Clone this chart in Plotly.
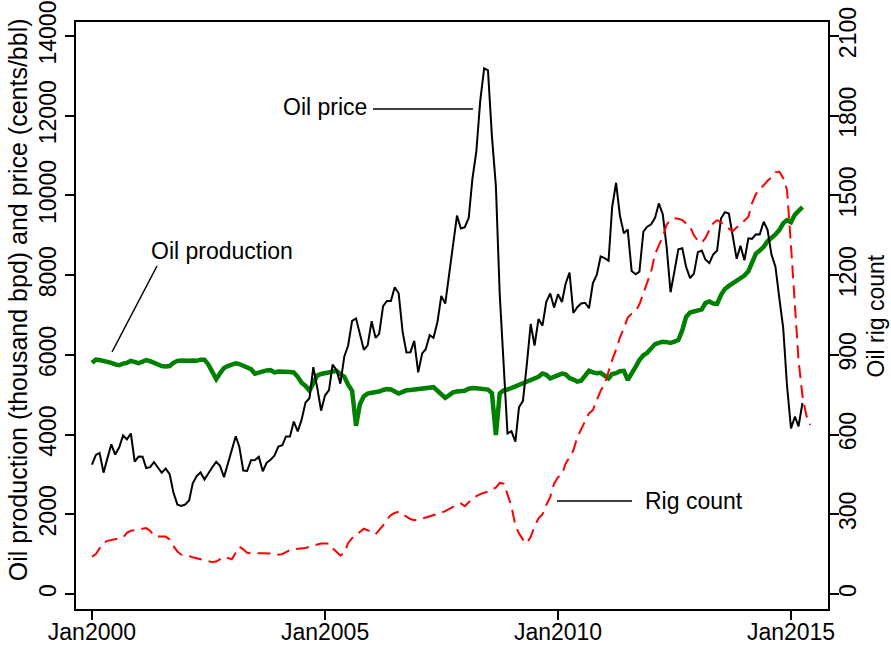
import plotly.graph_objects as go
import pandas as pd

# ---------------- data ----------------
# monthly, starting Jan 2000
price = [
    3244, 3489, 3539, 3045, 3403, 3755, 3499, 3676, 3978, 3880, 4027, 3322,
    3447, 3444, 3161, 3183, 3310, 3185, 3042, 3145, 3005, 2538, 2243, 2210,
    2244, 2352, 2779, 2958, 3050, 2871, 3029, 3180, 3316, 3216, 2933, 3270,
    3651, 3959, 3696, 3099, 3086, 3357, 3361, 3441, 3080, 3292, 3369, 3470,
    3699, 3736, 3953, 3951, 4326, 4081, 4368, 4804, 4911, 5690, 5172, 4600,
    4984, 5118, 5755, 5616, 5277, 5962, 6235, 6855, 6913, 6556, 6129, 6238,
    6844, 6428, 6526, 7222, 7353, 7350, 7694, 7545, 6578, 6060, 6067, 6351,
    5560, 6035, 6141, 6494, 6428, 6823, 7479, 7287, 8032, 8614, 9496, 9169,
    9204, 9434, 10418, 11112, 12364, 13187, 13137, 11480, 10234, 7523, 5622, 4030,
    4083, 3823, 4684, 4846, 5749, 6776, 6235, 6899, 6733, 7330, 7542, 7186,
    7520, 7326, 7779, 8067, 7050, 7195, 7289, 7308, 7170, 7796, 8012, 8469,
    8427, 8362, 9700, 10318, 9495, 9048, 9146, 8106, 8022, 8088, 9094, 9215,
    9275, 9443, 9799, 9526, 8718, 7572, 8087, 8651, 8676, 8206, 7926, 8039,
    8576, 8616, 8392, 8300, 8515, 8619, 9420, 9581, 9545, 9018, 8410, 8738,
    8374, 8923, 8911, 9023, 9022, 9341, 9137, 8515, 8212, 7436, 6670, 5218,
    4155, 4451, 4208, 4792,
]

production = [
    5800, 5880, 5870, 5850, 5810, 5800, 5760, 5740, 5780, 5800, 5850, 5830,
    5790, 5830, 5870, 5840, 5800, 5770, 5720, 5710, 5720, 5800, 5850, 5860,
    5850, 5850, 5860, 5850, 5880, 5880, 5760, 5600, 5390, 5540, 5670, 5720,
    5760, 5790, 5770, 5720, 5690, 5640, 5530, 5560, 5600, 5610, 5620, 5560,
    5580, 5580, 5590, 5570, 5560, 5450, 5300, 5220, 5100, 5290, 5480, 5520,
    5540, 5560, 5590, 5600, 5520, 5450, 5250, 5100, 4220, 4760, 4960, 5030,
    5050, 5060, 5080, 5120, 5140, 5130, 5080, 5030, 5070, 5110, 5120, 5130,
    5130, 5150, 5170, 5180, 5190, 5100, 5020, 4920, 4990, 5060, 5080, 5090,
    5100, 5150, 5170, 5160, 5150, 5140, 5130, 5040, 3990, 5030, 5110, 5130,
    5170, 5220, 5260, 5300, 5330, 5360, 5410, 5450, 5530, 5500, 5410, 5450,
    5480, 5530, 5510, 5420, 5380, 5330, 5350, 5480, 5600, 5560, 5540, 5550,
    5470, 5410, 5520, 5540, 5590, 5600, 5370, 5560, 5700, 5870, 5990, 6050,
    6150, 6270, 6300, 6330, 6320, 6300, 6330, 6370, 6620, 6950, 7060, 7080,
    7100, 7140, 7300, 7340, 7290, 7280, 7500, 7650, 7730, 7800, 7860, 7950,
    7990, 8100, 8300, 8540, 8620, 8710, 8850, 8920, 9020, 9130, 9300, 9380,
    9330, 9520, 9620, 9710,
]

rig_count = [
    140, 150, 172, 193, 200, 203, 206, 208, 212, 230, 238, 240,
    243, 246, 248, 238, 220, 216, 216, 216, 205, 180, 160, 148,
    145, 143, 138, 134, 131, 127, 123, 120, 122, 130, 140, 136,
    131, 155, 178, 168, 155, 153, 152, 153, 153, 152, 153, 152,
    148, 150, 158, 166, 168, 170, 172, 173, 178, 182, 186, 190,
    190, 190, 172, 160, 145, 155, 192, 210, 222, 232, 246, 240,
    235, 225, 240, 258, 280, 297, 305, 310, 300, 290, 282, 278,
    280, 284, 288, 292, 296, 300, 306, 312, 320, 329, 336, 341,
    330, 345, 358, 368, 376, 381, 385, 395, 400, 418, 415, 375,
    329, 258, 228, 205, 191, 215, 255, 285, 300, 335, 365, 415,
    440, 450, 490, 515, 540, 590, 622, 650, 680, 692, 730, 765,
    790, 840, 880, 920, 965, 1000, 1040, 1055, 1065, 1090, 1130, 1170,
    1215, 1280, 1315, 1345, 1390, 1408, 1414, 1412, 1407, 1395, 1382, 1350,
    1330, 1322, 1340, 1370, 1395, 1407, 1400, 1390, 1375, 1365, 1380, 1390,
    1405, 1420, 1470, 1505, 1525, 1538, 1555, 1568, 1587, 1590, 1565, 1520,
    1310, 1080, 880, 745, 672, 636,
]

months_price = pd.date_range("2000-01-01", periods=len(price), freq="MS")
months_prod = pd.date_range("2000-01-01", periods=len(production), freq="MS")
months_rig = pd.date_range("2000-01-01", periods=len(rig_count), freq="MS")

x_tick_vals = ["2000-01-01", "2005-01-01", "2010-01-01", "2015-01-01"]
x_tick_text = ["Jan2000", "Jan2005", "Jan2010", "Jan2015"]
y_tick_vals = [0, 2000, 4000, 6000, 8000, 10000, 12000, 14000]
y_tick_text = ["0", "2000", "4000", "6000", "8000", "10000", "12000", "14000"]
y2_tick_vals = [0, 300, 600, 900, 1200, 1500, 1800, 2100]
y2_tick_text = ["0", "300", "600", "900", "1200", "1500", "1800", "2100"]

# ---------------- figure ----------------
FONT = "Liberation Sans, Arial, Helvetica, sans-serif"
FS = 23

fig = go.Figure()
fig.add_trace(go.Scatter(x=months_prod, y=production, mode="lines",
                         line=dict(color="#008000", width=4.5),
                         name="Oil production", yaxis="y"))
fig.add_trace(go.Scatter(x=months_price, y=price, mode="lines",
                         line=dict(color="black", width=2),
                         name="Oil price", yaxis="y"))
fig.add_trace(go.Scatter(x=months_rig, y=rig_count, mode="lines",
                         line=dict(color="#ff0000", width=2, dash="13px,7px"),
                         name="Rig count", yaxis="y2"))

axis_common = dict(showgrid=False, zeroline=False, showline=True,
                   linecolor="black", linewidth=1.5, ticks="outside",
                   ticklen=9, tickwidth=1.5, tickcolor="black",
                   automargin=False,
                   tickfont=dict(family=FONT, size=FS, color="black"))

fig.update_layout(
    width=891, height=649, autosize=False,
    margin=dict(l=76, r=63, t=22, b=40, pad=0, autoexpand=False),
    paper_bgcolor="white", plot_bgcolor="white",
    showlegend=False,
    font=dict(family=FONT, size=FS, color="black"),
    xaxis=dict(type="date", range=["1999-08-29", "2015-10-18"],
               tickmode="array", tickvals=x_tick_vals, ticktext=x_tick_text,
               ticklabelstandoff=-7, mirror=True, **axis_common),
    yaxis=dict(range=[-376, 14351], tickmode="array", tickvals=y_tick_vals,
               ticktext=y_tick_text, tickangle=-90, **axis_common),
    yaxis2=dict(range=[-56.5, 2152.7], tickmode="array", tickvals=y2_tick_vals,
                ticktext=y2_tick_text, tickangle=-90, ticklabelstandoff=-10,
                overlaying="y", side="right", **axis_common),
)

# axis titles
fig.add_annotation(text="Oil production (thousand bpd) and price (cents/bbl)",
                   xref="paper", yref="paper", x=-0.0771, y=0.526,
                   textangle=-90, showarrow=False, xanchor="center", yanchor="middle",
                   font=dict(family=FONT, size=25, color="black"))
fig.add_annotation(text="Oil rig count",
                   xref="paper", yref="paper", x=1.0638, y=0.5,
                   textangle=-90, showarrow=False, xanchor="center", yanchor="middle",
                   font=dict(family=FONT, size=FS, color="black"))

# series labels
fig.add_annotation(text="Oil price", xref="paper", yref="paper", x=0.3896, y=0.8552,
                   xanchor="right", yanchor="middle", showarrow=False,
                   font=dict(family=FONT, size=FS, color="black"))
fig.add_annotation(text="Oil production", xref="paper", yref="paper", x=0.0971, y=0.6099,
                   xanchor="left", yanchor="middle", showarrow=False,
                   font=dict(family=FONT, size=FS, color="black"))
fig.add_annotation(text="Rig count", xref="paper", yref="paper", x=0.7540, y=0.1840,
                   xanchor="left", yanchor="middle", showarrow=False,
                   font=dict(family=FONT, size=FS, color="black"))

# leader lines
leader = dict(color="black", width=1.5)
fig.add_shape(type="line", xref="paper", yref="paper",
              x0=0.3949, y0=0.8518, x1=0.5279, y1=0.8518, line=leader)
fig.add_shape(type="line", xref="paper", yref="paper",
              x0=0.1077, y0=0.5843, x1=0.0479, y1=0.4378, line=leader)
fig.add_shape(type="line", xref="paper", yref="paper",
              x0=0.6396, y0=0.1840, x1=0.7394, y1=0.1840, line=leader)

fig.write_html("out.html",
               config={"displayModeBar": False},
               post_script="document.body.style.margin='0';document.body.style.overflow='hidden';")
